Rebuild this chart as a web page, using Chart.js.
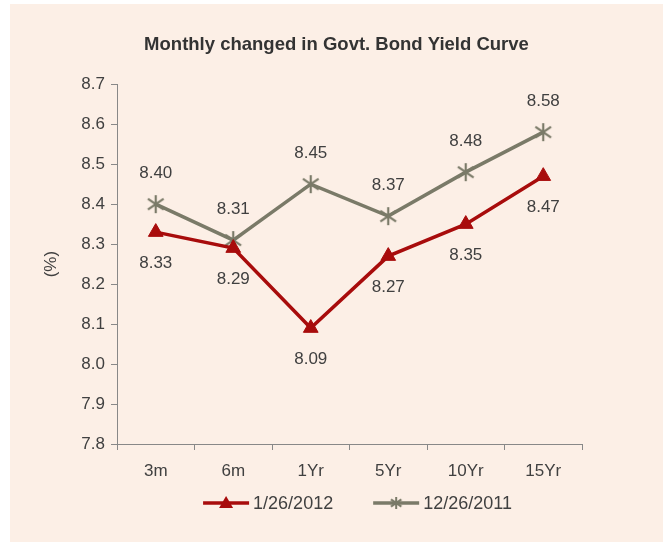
<!DOCTYPE html>
<html>
<head>
<meta charset="utf-8">
<script src="https://cdn.jsdelivr.net/npm/chart.js@4.4.1/dist/chart.umd.min.js"></script>
<style>
  html, body { margin: 0; padding: 0; background: #ffffff; }
  #box { position: absolute; left: 10px; top: 4px; width: 653px; height: 538px; background: #fcefe6; }
  canvas { display: block; }
</style>
</head>
<body>
<div id="box"><canvas id="yieldChart" width="653" height="538"></canvas></div>
<script>
// tenors and yields
const tenors = ["3m", "6m", "1Yr", "5Yr", "10Yr", "15Yr"];
const jan2012 = [8.33, 8.29, 8.09, 8.27, 8.35, 8.47];
const dec2011 = [8.40, 8.31, 8.45, 8.37, 8.48, 8.58];
const yTicks = [7.8, 7.9, 8.0, 8.1, 8.2, 8.3, 8.4, 8.5, 8.6, 8.7];

const red = "#a80c0c";
const grey = "#7a7a68";
const textColor = "#404040";
const fontFamily = "'Liberation Sans', Arial, sans-serif";

// office style star: an X with a vertical stroke
function starImage(size, color, width) {
    let c = document.createElement("canvas");
    c.width = size;
    c.height = size;
    let ctx = c.getContext("2d");
    let m = size / 2, r = size / 2 - 1;
    ctx.strokeStyle = color;
    ctx.lineWidth = width;
    ctx.beginPath();
    ctx.moveTo(m, m - r); ctx.lineTo(m, m + r);
    ctx.moveTo(m - r * 0.87, m - r * 0.6); ctx.lineTo(m + r * 0.87, m + r * 0.6);
    ctx.moveTo(m + r * 0.87, m - r * 0.6); ctx.lineTo(m - r * 0.87, m + r * 0.6);
    ctx.stroke();
    return c;
}

const bigStar = starImage(20, grey, 2.2);
const smallStar = starImage(14, grey, 2);

function drawMarker(ctx, style, x, y) {
    if (style === "triangle") {
        ctx.beginPath();
        ctx.moveTo(x, y - 7);
        ctx.lineTo(x + 7, y + 5);
        ctx.lineTo(x - 7, y + 5);
        ctx.closePath();
        ctx.fill();
    } else {
        ctx.drawImage(smallStar, x - 7, y - 7);
    }
}

// value labels above / below each point
const valueLabels = {
    id: "valueLabels",
    afterDatasetsDraw(chart) {
        let ctx = chart.ctx;
        ctx.save();
        ctx.font = "17px " + fontFamily;
        ctx.fillStyle = textColor;
        ctx.textAlign = "center";
        ctx.textBaseline = "middle";
        chart.data.datasets.forEach((ds, i) => {
            let meta = chart.getDatasetMeta(i);
            meta.data.forEach((pt, j) => {
                ctx.fillText(ds.data[j].toFixed(2), pt.x, pt.y + ds.labelOffset);
            });
        });
        ctx.restore();
    }
};

// legend with line + marker, like the office chart
const lineLegend = {
    id: "lineLegend",
    afterDraw(chart) {
        let ctx = chart.ctx;
        let area = chart.chartArea;
        let lineLen = 46, textGap = 4, itemGap = 40;
        ctx.save();
        ctx.font = "18px " + fontFamily;
        let total = 0;
        chart.data.datasets.forEach((ds, i) => {
            total += lineLen + textGap + ctx.measureText(ds.label).width;
            if (i > 0) total += itemGap;
        });
        let x = (area.left + area.right) / 2 + 8 - total / 2;
        let y = area.bottom + 59;
        ctx.textBaseline = "middle";
        ctx.textAlign = "left";
        chart.data.datasets.forEach(ds => {
            ctx.strokeStyle = ds.borderColor;
            ctx.fillStyle = ds.borderColor;
            ctx.lineWidth = 3.5;
            ctx.beginPath();
            ctx.moveTo(x, y);
            ctx.lineTo(x + lineLen, y);
            ctx.stroke();
            drawMarker(ctx, ds.marker, x + lineLen / 2, y);
            ctx.fillStyle = textColor;
            ctx.fillText(ds.label, x + lineLen + textGap, y + 1);
            x += lineLen + textGap + ctx.measureText(ds.label).width + itemGap;
        });
        ctx.restore();
    }
};

new Chart(document.getElementById("yieldChart"), {
    type: "line",
    data: {
        labels: tenors,
        datasets: [{
            label: "1/26/2012",
            data: jan2012,
            borderColor: red,
            backgroundColor: red,
            borderWidth: 3.5,
            pointStyle: "triangle",
            marker: "triangle",
            pointRadius: 8.5,
            pointBorderWidth: 1,
            labelOffset: 31
        }, {
            label: "12/26/2011",
            data: dec2011,
            borderColor: grey,
            backgroundColor: grey,
            borderWidth: 3.5,
            pointStyle: bigStar,
            marker: "star",
            pointRadius: 10,
            labelOffset: -31
        }]
    },
    options: {
        responsive: false,
        animation: false,
        layout: { padding: 0 },
        plugins: {
            title: {
                display: true,
                text: "Monthly changed in Govt. Bond Yield Curve",
                color: "#333333",
                font: { family: fontFamily, size: 18.5, weight: "bold" },
                padding: { top: 30, bottom: 28 }
            },
            legend: { display: false },
            tooltip: { enabled: false }
        },
        scales: {
            x: {
                offset: true,
                afterFit(scale) { scale.height = 98; },
                grid: { offset: true, drawOnChartArea: false, tickLength: 6, color: "#888888" },
                border: { color: "#888888", width: 1 },
                ticks: {
                    color: textColor,
                    padding: 11,
                    font: { family: fontFamily, size: 17 }
                }
            },
            y: {
                min: 7.8,
                max: 8.7,
                afterFit(scale) { scale.width = 107; },
                afterBuildTicks(scale) { scale.ticks = yTicks.map(v => ({ value: v })); },
                grid: { drawOnChartArea: false, tickLength: 6, color: "#888888" },
                border: { color: "#888888", width: 1 },
                title: {
                    display: true,
                    text: "(%)",
                    color: textColor,
                    font: { family: fontFamily, size: 17 },
                    padding: { top: 31, bottom: 0 }
                },
                ticks: {
                    color: textColor,
                    padding: 6,
                    font: { family: fontFamily, size: 17 },
                    callback: v => v.toFixed(1)
                }
            },
            // empty right-hand box so the plot stops where the original does
            yRight: {
                position: "right",
                display: true,
                min: 0,
                max: 1,
                afterFit(scale) { scale.width = 81; },
                grid: { display: false },
                border: { display: false },
                ticks: { display: false }
            }
        }
    },
    plugins: [valueLabels, lineLegend]
});
</script>
</body>
</html>
